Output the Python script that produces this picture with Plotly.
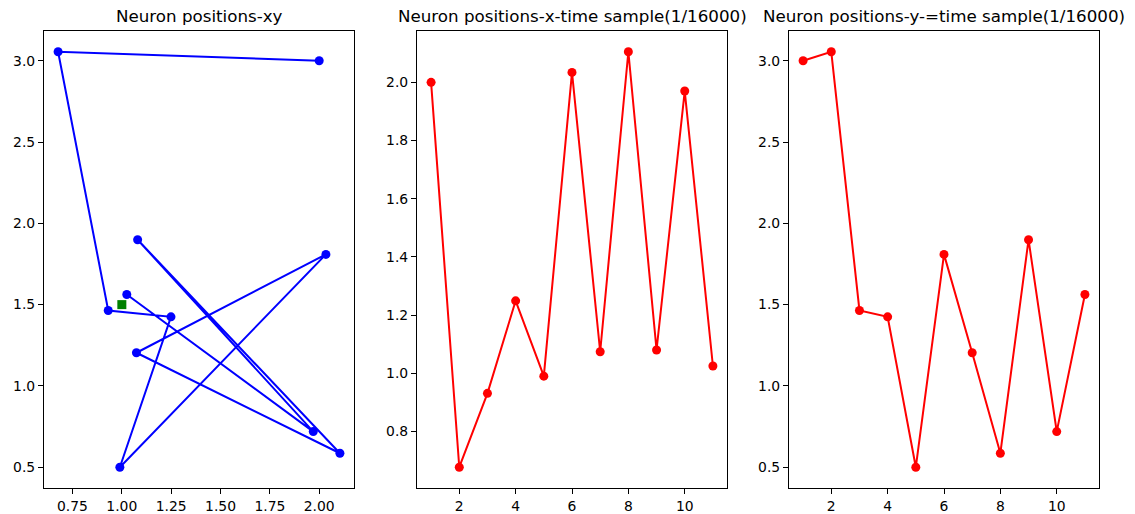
import plotly.graph_objects as go

time_steps = [1, 2, 3, 4, 5, 6, 7, 8, 9, 10, 11]
x_pos = [2.0, 0.677, 0.931, 1.249, 0.990, 2.034, 1.074, 2.105, 1.080, 1.970, 1.025]
y_pos = [3.0, 3.055, 1.464, 1.425, 0.5, 1.809, 1.204, 0.586, 1.899, 0.719, 1.562]
target_x = [1.0]
target_y = [1.5]

titles = ["Neuron positions-xy",
          "Neuron positions-x-time sample(1/16000)",
          "Neuron positions-y-=time sample(1/16000)"]

W, H = 1135, 514
FONT = "DejaVu Sans"


def pad(vals):
    lo, hi = min(vals), max(vals)
    m = (hi - lo) * 0.05
    return [lo - m, hi + m]


fig = go.Figure()

fig.add_trace(go.Scatter(x=x_pos, y=y_pos, xaxis="x", yaxis="y",
                         line=dict(color="#0000ff", width=2),
                         marker=dict(color="#0000ff", size=9),
                         mode="lines+markers", showlegend=False))
fig.add_trace(go.Scatter(x=target_x, y=target_y, xaxis="x", yaxis="y", mode="markers",
                         marker=dict(color="#008000", size=9, symbol="square"), showlegend=False))
fig.add_trace(go.Scatter(x=time_steps, y=x_pos, xaxis="x2", yaxis="y2",
                         line=dict(color="#ff0000", width=2),
                         marker=dict(color="#ff0000", size=9),
                         mode="lines+markers", showlegend=False))
fig.add_trace(go.Scatter(x=time_steps, y=y_pos, xaxis="x3", yaxis="y3",
                         line=dict(color="#ff0000", width=2),
                         marker=dict(color="#ff0000", size=9),
                         mode="lines+markers", showlegend=False))

xdoms = [(44 / W, 354 / W), (417 / W, 727 / W), (789 / W, 1099 / W)]
ydom = (1 - 488 / H, 1 - 31 / H)

axis_common = dict(showline=True, mirror=True, linecolor="#000000", linewidth=1.1,
                   ticks="outside", ticklen=5, tickwidth=1.1, tickcolor="#000000",
                   showgrid=False, zeroline=False,
                   tickfont=dict(family=FONT, size=13.9, color="#000000"))

fig.update_layout(
    width=W, height=H,
    margin=dict(l=0, r=0, t=0, b=0),
    paper_bgcolor="white", plot_bgcolor="white",
    xaxis=dict(domain=xdoms[0], anchor="y", range=pad(x_pos), tick0=0.75, dtick=0.25,
               tickformat=".2f", **axis_common),
    yaxis=dict(domain=ydom, anchor="x", range=pad(y_pos), tick0=0.5, dtick=0.5,
               tickformat=".1f", **axis_common),
    xaxis2=dict(domain=xdoms[1], anchor="y2", range=pad(time_steps), tick0=0, dtick=2,
                **axis_common),
    yaxis2=dict(domain=ydom, anchor="x2", range=pad(x_pos), tick0=0, dtick=0.2,
                tickformat=".1f", **axis_common),
    xaxis3=dict(domain=xdoms[2], anchor="y3", range=pad(time_steps), tick0=0, dtick=2,
                **axis_common),
    yaxis3=dict(domain=ydom, anchor="x3", range=pad(y_pos), tick0=0.5, dtick=0.5,
                tickformat=".1f", **axis_common),
)

for i, t in enumerate(titles):
    x0, x1 = xdoms[i]
    fig.add_annotation(text=t, xref="paper", yref="paper", x=(x0 + x1) / 2, y=ydom[1],
                       xanchor="center", yanchor="bottom", yshift=3, showarrow=False,
                       font=dict(family=FONT, size=16.7, color="#000000"))

fig.write_html("out.html")
